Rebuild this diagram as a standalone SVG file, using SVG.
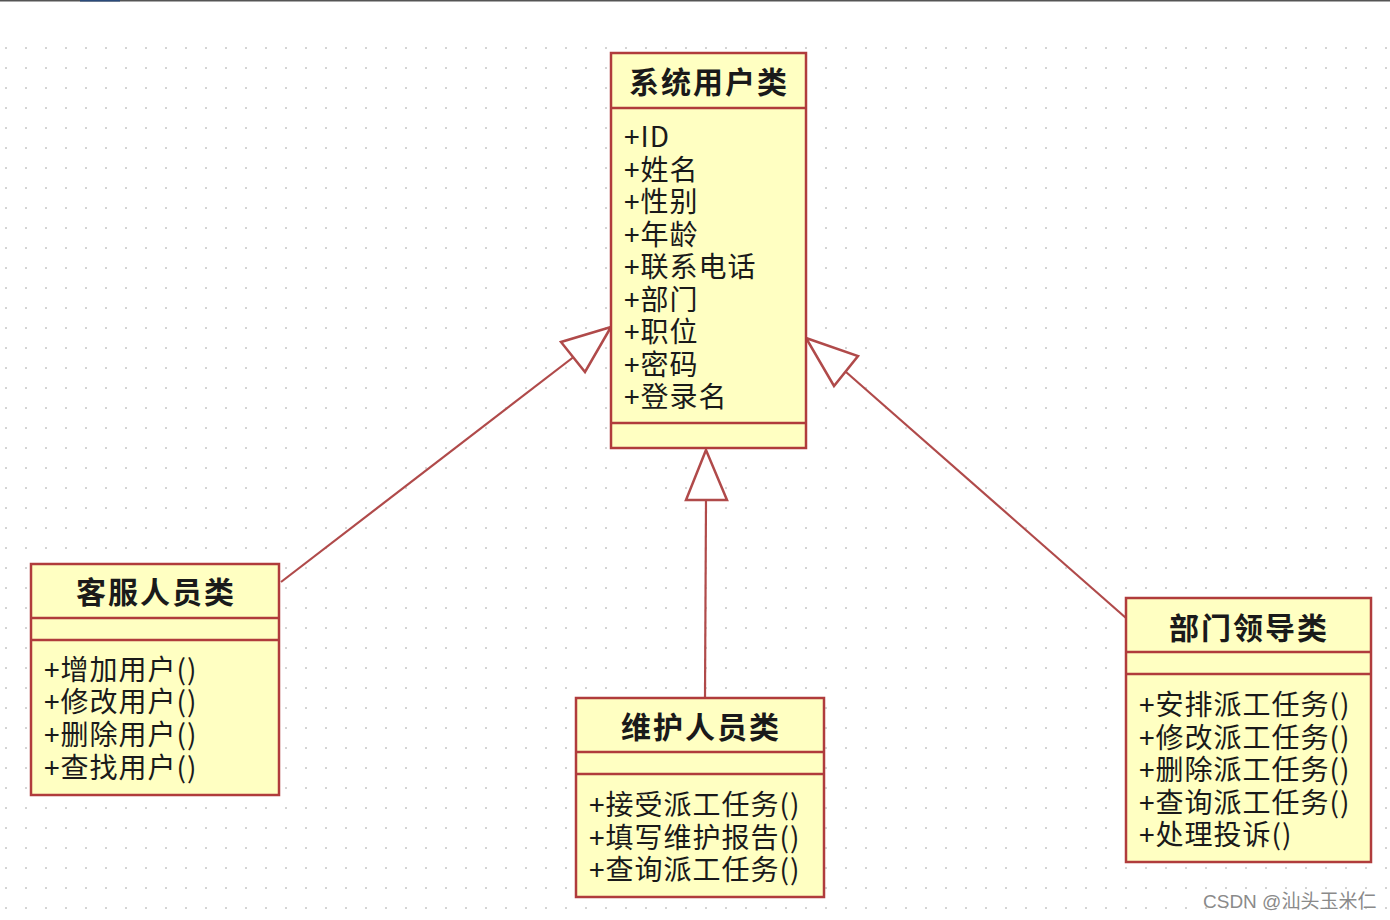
<svg xmlns="http://www.w3.org/2000/svg" width="1390" height="920" viewBox="0 0 1390 920">
<defs>
<pattern id="dots" x="5" y="47" width="20" height="20" patternUnits="userSpaceOnUse">
<rect x="0" y="0" width="2" height="2" fill="#d4d4d4"/>
</pattern>
<style>
.box{fill:#ffffc2;stroke:#b03c3c;stroke-width:2.5}
.sep{stroke:#b03c3c;stroke-width:2.5}
.t{font-family:"Noto Sans CJK SC","Liberation Sans",sans-serif;font-weight:bold;font-size:30px;fill:#1a1a1a;text-anchor:middle;dominant-baseline:central;letter-spacing:2px}
.m{font-family:"Noto Sans CJK SC","Liberation Sans",sans-serif;font-size:28px;fill:#1a1a1a;dominant-baseline:central;letter-spacing:1px}
.conn{stroke:#b04a4a;stroke-width:2.2;fill:none}
.head{stroke:#b04a4a;stroke-width:2.5;fill:#ffffff;stroke-linejoin:miter}
</style>
</defs>
<rect width="1390" height="920" fill="#ffffff"/>
<rect x="0" y="40" width="1390" height="875" fill="url(#dots)"/>
<line x1="0" y1="0.5" x2="1390" y2="0.5" stroke="#555" stroke-width="2"/>
<line x1="80" y1="0.5" x2="120" y2="0.5" stroke="#2a4a7a" stroke-width="2"/>

<g id="connectors">
<line class="conn" x1="281" y1="582" x2="584" y2="349"/>
<polygon class="head" points="611,327 561,342 585,372"/>
<line class="conn" x1="705" y1="698" x2="706" y2="500"/>
<polygon class="head" points="706,450 686,500 727,500"/>
<line class="conn" x1="1126" y1="618" x2="846" y2="372"/>
<polygon class="head" points="806,338 858,356 834,386"/>
</g>

<g id="sys-user">
<rect class="box" x="611" y="53" width="195" height="395"/>
<line class="sep" x1="611" y1="108" x2="806" y2="108"/>
<line class="sep" x1="611" y1="423" x2="806" y2="423"/>
<text class="t" x="709" y="80">系统用户类</text>
<text class="m" x="624" y="135">+ID</text>
<text class="m" x="624" y="168">+姓名</text>
<text class="m" x="624" y="200">+性别</text>
<text class="m" x="624" y="233">+年龄</text>
<text class="m" x="624" y="265">+联系电话</text>
<text class="m" x="624" y="298">+部门</text>
<text class="m" x="624" y="330">+职位</text>
<text class="m" x="624" y="363">+密码</text>
<text class="m" x="624" y="395">+登录名</text>
</g>

<g id="kefu">
<rect class="box" x="31" y="564" width="248" height="231"/>
<line class="sep" x1="31" y1="618" x2="279" y2="618"/>
<line class="sep" x1="31" y1="640" x2="279" y2="640"/>
<text class="t" x="156" y="590">客服人员类</text>
<text class="m" x="44" y="668">+增加用户()</text>
<text class="m" x="44" y="700">+修改用户()</text>
<text class="m" x="44" y="733">+删除用户()</text>
<text class="m" x="44" y="766">+查找用户()</text>
</g>

<g id="weihu">
<rect class="box" x="576" y="698" width="248" height="199"/>
<line class="sep" x1="576" y1="752" x2="824" y2="752"/>
<line class="sep" x1="576" y1="774" x2="824" y2="774"/>
<text class="t" x="701" y="725">维护人员类</text>
<text class="m" x="589" y="803">+接受派工任务()</text>
<text class="m" x="589" y="836">+填写维护报告()</text>
<text class="m" x="589" y="868">+查询派工任务()</text>
</g>

<g id="lingdao">
<rect class="box" x="1126" y="598" width="245" height="264"/>
<line class="sep" x1="1126" y1="652" x2="1371" y2="652"/>
<line class="sep" x1="1126" y1="674" x2="1371" y2="674"/>
<text class="t" x="1249" y="626">部门领导类</text>
<text class="m" x="1139" y="703">+安排派工任务()</text>
<text class="m" x="1139" y="736">+修改派工任务()</text>
<text class="m" x="1139" y="768">+删除派工任务()</text>
<text class="m" x="1139" y="801">+查询派工任务()</text>
<text class="m" x="1139" y="833">+处理投诉()</text>
</g>

<text x="1203" y="901" font-family="'Liberation Sans','Noto Sans CJK SC',sans-serif" font-size="19" fill="#8a8a8a" dominant-baseline="central">CSDN @汕头玉米仁</text>
</svg>
